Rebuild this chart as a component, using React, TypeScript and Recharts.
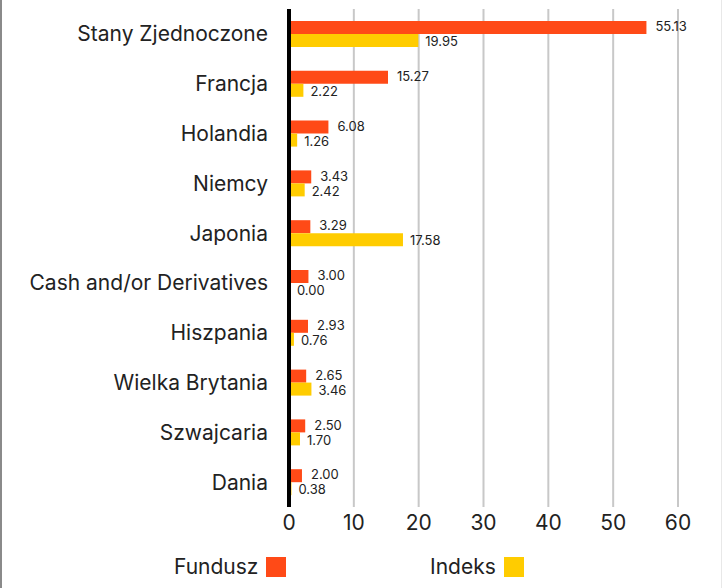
import { BarChart, Bar, XAxis, YAxis, CartesianGrid, ReferenceLine, LabelList } from 'recharts';

const countries = [
  'Stany Zjednoczone',
  'Francja',
  'Holandia',
  'Niemcy',
  'Japonia',
  'Cash and/or Derivatives',
  'Hiszpania',
  'Wielka Brytania',
  'Szwajcaria',
  'Dania',
];
const fundusz = [55.13, 15.27, 6.08, 3.43, 3.29, 3.0, 2.93, 2.65, 2.5, 2.0];
const indeks = [19.95, 2.22, 1.26, 2.42, 17.58, 0.0, 0.76, 3.46, 1.7, 0.38];
const xTicks = [0, 10, 20, 30, 40, 50, 60];

const ORANGE = '#ff4a17';
const YELLOW = '#ffcc00';
const FONT = 'Inter, "Noto Sans", sans-serif';

const data = countries.map((name, i) => ({ name, fundusz: fundusz[i], indeks: indeks[i] }));

const legendItems = [
  { label: 'Fundusz', color: ORANGE, left: 172 },
  { label: 'Indeks', color: YELLOW, left: 428 },
];

export default function App() {
  return (
    <div
      style={{
        position: 'absolute',
        left: 0,
        top: 0,
        width: 722,
        height: 588,
        background: '#fff',
        boxSizing: 'border-box',
        borderLeft: '2px solid #8a8a8a',
        borderRight: '1px solid #e8e8e8',
        fontFamily: FONT,
      }}
    >
      <BarChart
        width={719}
        height={588}
        data={data}
        layout="vertical"
        margin={{ top: 9, right: 43, bottom: 45, left: 0 }}
        barGap={0}
        barCategoryGap="24%"
        style={{ fontFamily: FONT }}
      >
        <CartesianGrid horizontal={false} stroke="#c8c8c8" strokeWidth={2} />
        <XAxis
          type="number"
          domain={[0, 60]}
          ticks={xTicks}
          axisLine={false}
          tickLine={false}
          tick={{ fontSize: 21, fill: '#222' }}
          tickMargin={2}
          height={36}
        />
        <YAxis
          type="category"
          dataKey="name"
          width={287}
          axisLine={false}
          tickLine={false}
          tick={{ fontSize: 21, fill: '#222' }}
          tickMargin={15}
        />
        <Bar dataKey="fundusz" name="Fundusz" fill={ORANGE} barSize={13} minPointSize={1} isAnimationActive={false}>
          <LabelList
            dataKey="fundusz"
            position="right"
            offset={9}
            dy={-1}
            formatter={(v: number) => v.toFixed(2)}
            style={{ fontSize: 13, fill: '#222' }}
          />
        </Bar>
        <Bar dataKey="indeks" name="Indeks" fill={YELLOW} barSize={13} minPointSize={1} isAnimationActive={false}>
          <LabelList
            dataKey="indeks"
            position="right"
            offset={7}
            dy={1}
            formatter={(v: number) => v.toFixed(2)}
            style={{ fontSize: 13, fill: '#222' }}
          />
        </Bar>
        <ReferenceLine x={0} stroke="#000" strokeWidth={4} />
      </BarChart>
      {legendItems.map((it) => (
        <div
          key={it.label}
          style={{ position: 'absolute', left: it.left, top: 555, display: 'flex', alignItems: 'center', gap: 8 }}
        >
          <span style={{ fontSize: 21, color: '#222', lineHeight: '24px' }}>{it.label}</span>
          <span style={{ width: 20, height: 20, background: it.color, display: 'inline-block' }} />
        </div>
      ))}
    </div>
  );
}
